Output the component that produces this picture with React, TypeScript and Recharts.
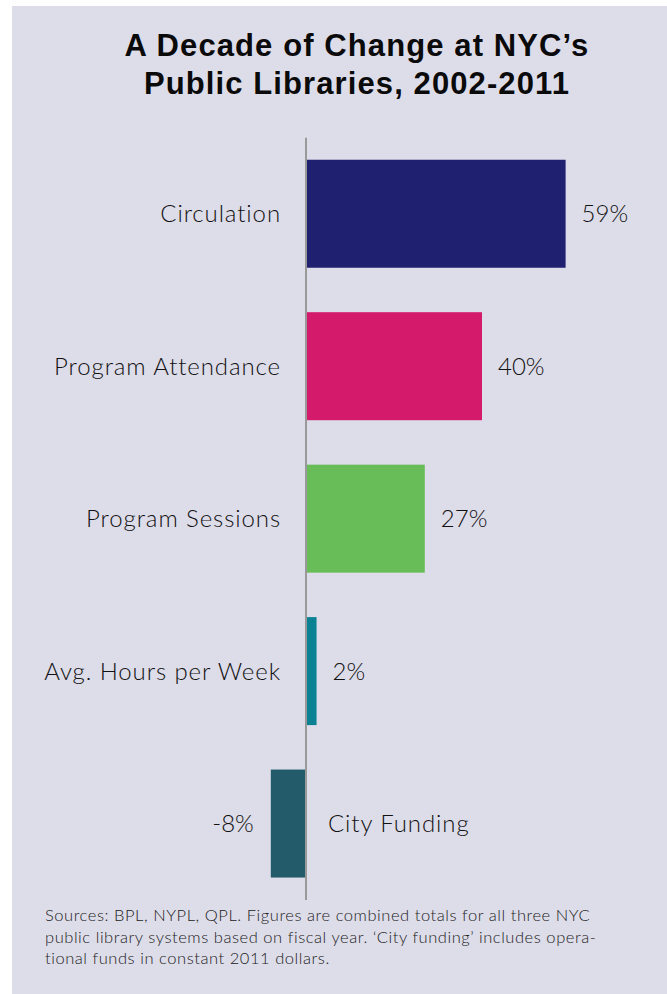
import React from 'react';
import { BarChart, Bar, XAxis, YAxis, Cell, ReferenceLine } from 'recharts';

const categories = ['Circulation', 'Program Attendance', 'Program Sessions', 'Avg. Hours per Week', 'City Funding'];
const changePct = [59, 40, 27, 2.4, -8];
const valueLabels = ['59%', '40%', '27%', '2%', '-8%'];
const barColors = ['#1f206f', '#d41a6b', '#68bd58', '#0b8294', '#245b6b'];
const titleLines = ["A Decade of Change at NYC\u2019s", 'Public Libraries, 2002-2011'];
const footerLines = [
  'Sources: BPL, NYPL, QPL. Figures are combined totals for all three NYC',
  'public library systems based on fiscal year. \u2018City funding\u2019 includes opera-',
  'tional funds in constant 2011 dollars.',
];

const data = categories.map((name, i) => ({ name, value: changePct[i], label: valueLabels[i] }));

const BG = '#dddce9';
const LABEL_FONT = 'Lato, "Liberation Sans", sans-serif';

const BarShape = (props: any) => {
  const { x, y, width, height, fill, payload } = props;
  const left = Math.min(x, x + width);
  const right = Math.max(x, x + width);
  const neg = payload.value < 0;
  const zero = neg ? right : left;
  const cy = y + height / 2;
  const base = cy + 8.5;
  const ts = { fontFamily: LABEL_FONT, fontSize: 24, fontWeight: 300, letterSpacing: 0.9, fill: '#111111' } as any;
  const vs = { ...ts, letterSpacing: 0 };
  return (
    <g>
      <rect x={left} y={y} width={right - left} height={height} fill={fill} />
      {neg ? (
        <>
          <text x={left - 17} y={base} textAnchor="end" style={vs}>{payload.label}</text>
          <text x={zero + 22} y={base} textAnchor="start" style={ts}>{payload.name}</text>
        </>
      ) : (
        <>
          <text x={zero - 25} y={base} textAnchor="end" style={ts}>{payload.name}</text>
          <text x={right + 16} y={base} textAnchor="start" style={vs}>{payload.label}</text>
        </>
      )}
    </g>
  );
};

export default function App() {
  return (
    <div style={{ position: 'absolute', left: 0, top: 0, width: 667, height: 994, background: '#ffffff', overflow: 'hidden' }}>
      <div style={{ position: 'absolute', left: 12, top: 6, width: 655, height: 988, background: BG }} />
      {titleLines.map((t, i) => (
        <div
          key={i}
          style={{
            position: 'absolute',
            left: 0,
            width: 714,
            top: 28 + i * 38,
            textAlign: 'center',
            fontFamily: '"Liberation Sans", Arial, sans-serif',
            fontWeight: 700,
            fontSize: 31,
            letterSpacing: 1.1,
            lineHeight: '36px',
            color: '#0a0a0a',
            whiteSpace: 'nowrap',
          }}
        >
          {t}
        </div>
      ))}
      <div style={{ position: 'absolute', left: 0, top: 0 }}>
        <BarChart
          width={667}
          height={994}
          data={data}
          layout="vertical"
          margin={{ top: 137.75, bottom: 94, left: 218, right: 53 }}
        >
          <XAxis type="number" domain={[-20, 70]} hide />
          <YAxis type="category" dataKey="name" hide />
          <Bar dataKey="value" barSize={108} isAnimationActive={false} shape={BarShape}>
            {data.map((d, i) => (
              <Cell key={d.name} fill={barColors[i]} />
            ))}
          </Bar>
          <ReferenceLine x={0} stroke="#999999" strokeWidth={2} />
        </BarChart>
      </div>
      {footerLines.map((t, i) => (
        <div
          key={i}
          style={{
            position: 'absolute',
            left: 45,
            top: 905 + i * 21.5,
            fontFamily: LABEL_FONT,
            fontSize: 16.5,
            fontWeight: 300,
            letterSpacing: 0.55,
            lineHeight: '20px',
            color: '#222222',
            whiteSpace: 'nowrap',
          }}
        >
          {t}
        </div>
      ))}
    </div>
  );
}
